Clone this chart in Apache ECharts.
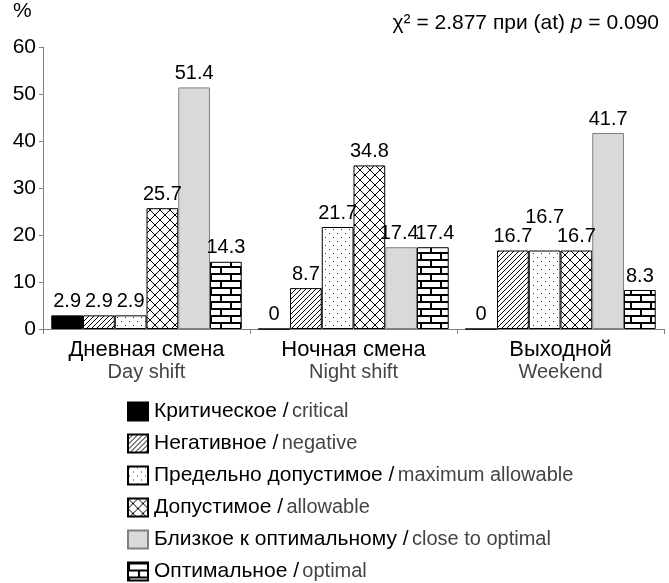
<!DOCTYPE html>
<html>
<head>
<meta charset="utf-8">
<script src="https://cdn.jsdelivr.net/npm/echarts@6/dist/echarts.min.js"></script>
<style>
html,body{margin:0;padding:0;background:#fff;}
#c{width:669px;height:583px;}
</style>
</head>
<body>
<div id="c"></div>
<script>
// ---- data ----
var catRu = ['Дневная смена', 'Ночная смена', 'Выходной'];
var catEn = ['Day shift', 'Night shift', 'Weekend'];
var seriesRu = ['Критическое', 'Негативное', 'Предельно допустимое', 'Допустимое', 'Близкое к оптимальному', 'Оптимальное'];
var seriesEn = ['critical', 'negative', 'maximum allowable', 'allowable', 'close to optimal', 'optimal'];
var critical = [2.9, 0, 0];
var negative = [2.9, 8.7, 16.7];
var maxAllowable = [2.9, 21.7, 16.7];
var allowable = [25.7, 34.8, 16.7];
var closeOptimal = [51.4, 17.4, 41.7];
var optimal = [14.3, 17.4, 8.3];
var yTicks = [0, 10, 20, 30, 40, 50, 60];

// ---- patterns ----
function mk(w, h, draw) {
  var c = document.createElement('canvas');
  c.width = w; c.height = h;
  var g = c.getContext('2d');
  g.fillStyle = '#fff'; g.fillRect(0, 0, w, h);
  g.strokeStyle = '#000'; g.fillStyle = '#000';
  draw(g);
  return { image: c, repeat: 'repeat' };
}
var hatch = mk(5, 5, function (g) {
  g.lineWidth = 1;
  g.beginPath();
  g.moveTo(-1, 6); g.lineTo(6, -1);
  g.moveTo(-4, 4); g.lineTo(4, -4);
  g.moveTo(1, 9); g.lineTo(9, 1);
  g.stroke();
});
var dots = mk(8, 8, function (g) {
  g.fillStyle = '#333';
  g.fillRect(1, 1, 1, 1);
  g.fillRect(5, 5, 1, 1);
});
var cross = mk(10, 10, function (g) {
  g.lineWidth = 1;
  g.beginPath();
  g.moveTo(0, 0); g.lineTo(10, 10);
  g.moveTo(10, 0); g.lineTo(0, 10);
  g.stroke();
});
var brick = mk(20, 14, function (g) {
  g.fillRect(0, 0, 20, 2);
  g.fillRect(0, 7, 20, 2);
  g.fillRect(0, 0, 2, 7);
  g.fillRect(10, 7, 2, 7);
});

var fills = ['#000', hatch, dots, cross, '#d9d9d9', brick];
var borders = ['#000', '#000', '#000', '#000', '#7f7f7f', '#000'];
var dataSets = [critical, negative, maxAllowable, allowable, closeOptimal, optimal];

var FONT = 'Liberation Sans, Arial, sans-serif';

var series = dataSets.map(function (arr, i) {
  return {
    name: seriesRu[i],
    type: 'bar',
    barGap: '0%',
    barCategoryGap: '8%',
    data: arr.map(function (v, j) {
      var item = { value: v };
      // label nudges to avoid overlaps, as in the original
      if (i === 2 && j === 2) item.label = { offset: [0, -19] };
      if (i === 4 && j === 1) item.label = { offset: [-2, 0] };
      if (i === 5 && j === 1) item.label = { offset: [2, 0] };
      return item;
    }),
    itemStyle: { color: fills[i], borderColor: borders[i], borderWidth: 1 },
    label: {
      show: true, position: 'top', distance: 4,
      color: '#000', fontSize: 20, fontFamily: FONT,
      formatter: function (p) { return String(p.value); }
    }
  };
});

var chart = echarts.init(document.getElementById('c'), null, { renderer: 'canvas' });
chart.setOption({
  animation: false,
  backgroundColor: '#fff',
  textStyle: { fontFamily: FONT },
  grid: { left: 43, right: 5, top: 47, bottom: 254, containLabel: false },
  title: {
    text: 'χ² = 2.877 при (at) {i|p} = 0.090',
    right: 5, top: 8,
    textStyle: {
      fontSize: 21, fontWeight: 'normal', color: '#000', fontFamily: FONT,
      rich: { i: { fontStyle: 'italic', fontSize: 21, color: '#000', fontFamily: FONT } }
    }
  },
  graphic: [{
    type: 'text', left: 13, top: 1,
    style: { text: '%', fontSize: 21, fill: '#000', fontFamily: FONT }
  }],
  xAxis: {
    type: 'category',
    data: catRu,
    axisLine: { lineStyle: { color: '#7f7f7f', width: 1 } },
    axisTick: { show: true, length: 5, lineStyle: { color: '#7f7f7f' } },
    axisLabel: {
      margin: 10,
      formatter: function (v, idx) {
        return '{ru|' + v + '}\n{en|' + catEn[idx] + '}';
      },
      rich: {
        ru: { fontSize: 22, color: '#000', lineHeight: 22, fontFamily: FONT },
        en: { fontSize: 20, color: '#444', lineHeight: 22, fontFamily: FONT }
      }
    }
  },
  yAxis: {
    type: 'value',
    min: yTicks[0], max: yTicks[yTicks.length - 1], interval: 10,
    splitLine: { show: false },
    axisLine: { show: true, lineStyle: { color: '#7f7f7f', width: 1 } },
    axisTick: { show: true, length: 4, lineStyle: { color: '#7f7f7f' } },
    axisLabel: { margin: 7, fontSize: 21, color: '#000', fontFamily: FONT }
  },
  legend: {
    orient: 'vertical',
    left: 127, top: 401,
    height: 200,
    padding: 0,
    itemWidth: 20, itemHeight: 18, itemGap: 11,
    icon: 'rect',
    data: seriesRu,
    formatter: function (name) {
      var i = seriesRu.indexOf(name);
      return '{ru|' + name + ' /} {en|' + seriesEn[i] + '}';
    },
    textStyle: {
      fontFamily: FONT,
      padding: [0, 0, 0, 1],
      rich: {
        ru: { fontSize: 21, color: '#000', fontFamily: FONT, lineHeight: 23 },
        en: { fontSize: 20, color: '#444', fontFamily: FONT, lineHeight: 23 }
      }
    }
  },
  series: series
});
</script>
</body>
</html>
